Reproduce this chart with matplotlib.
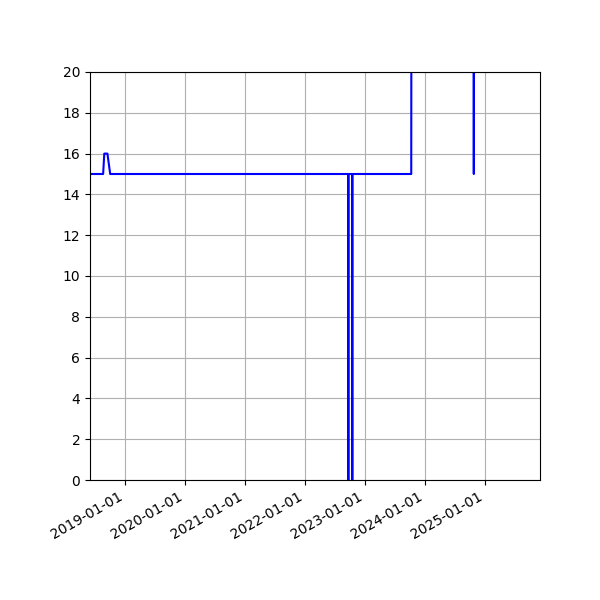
import matplotlib
matplotlib.use('Agg')
import matplotlib.pyplot as plt
import matplotlib.dates as mdates
import numpy as np

dates = ['2018-06-01', '2018-08-20', '2018-08-27', '2018-09-15', '2018-10-02',
         '2022-09-20', '2022-09-21', '2022-09-22',
         '2022-10-14', '2022-10-15', '2022-10-16',
         '2023-10-09', '2023-10-10',
         '2024-10-23', '2024-10-24', '2024-10-25', '2025-12-01']
values = [15, 15, 16, 16, 15,
          15, 0, 15,
          15, 0, 15,
          15, 25,
          25, 15, 25, 25]

x = np.array(dates, dtype='datetime64[D]')

fig = plt.figure(figsize=(6, 6), dpi=100)
ax = fig.add_axes([0.15, 0.2, 0.75, 0.68])
ax.plot(x, values, color='blue', linewidth=1.5)

ax.set_ylim(0, 20)
ax.set_xlim(x[0], x[-1])
ax.set_yticks(range(0, 21, 2))
ax.xaxis.set_major_locator(mdates.YearLocator())
ax.xaxis.set_major_formatter(mdates.DateFormatter('%Y-%m-%d'))
for lbl in ax.get_xticklabels():
    lbl.set_rotation(30)
    lbl.set_ha('right')
ax.grid(True, color='#b0b0b0', linewidth=0.8)

fig.savefig('out.png', dpi=100)
